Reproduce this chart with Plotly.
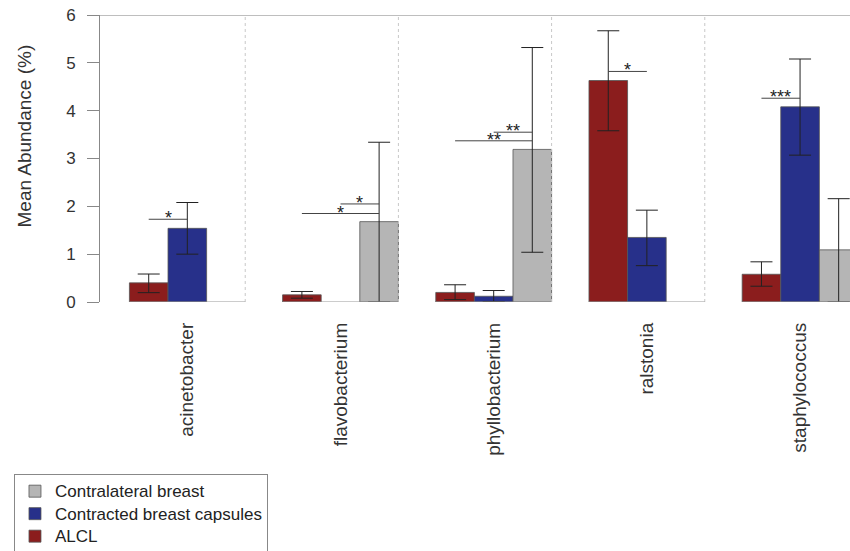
import plotly.graph_objects as go

categories = ["acinetobacter", "flavobacterium", "phyllobacterium", "ralstonia", "staphylococcus"]
series_names = ["ALCL", "Contracted breast capsules", "Contralateral breast"]
series_colors = ["#8b1d1d", "#27308a", "#b5b5b5"]

alcl_mean = [0.40, 0.15, 0.20, 4.63, 0.58]
alcl_upper = [0.585, 0.22, 0.36, 5.67, 0.84]
alcl_lower = [0.195, 0.08, 0.05, 3.58, 0.33]

capsule_mean = [1.54, 0.0, 0.12, 1.35, 4.08]
capsule_upper = [2.08, 0.0, 0.24, 1.92, 5.08]
capsule_lower = [1.00, 0.0, 0.01, 0.76, 3.07]

contra_mean = [0.0, 1.68, 3.19, 0.0, 1.09]
contra_upper = [0.0, 3.34, 5.32, 0.0, 2.16]
contra_lower = [0.0, 0.0, 1.04, 0.0, 0.0]

# significance brackets: category index, from series, to series, height, label
sig_category = [0, 1, 1, 2, 2, 3, 4]
sig_from = [0, 1, 0, 1, 0, 0, 0]
sig_to = [1, 2, 2, 2, 2, 1, 1]
sig_height = [1.73, 2.05, 1.85, 3.55, 3.37, 4.82, 4.26]
sig_label = ["*", "*", "*", "**", "**", "*", "***"]

y_ticks = [0, 1, 2, 3, 4, 5, 6]

means = [alcl_mean, capsule_mean, contra_mean]
uppers = [alcl_upper, capsule_upper, contra_upper]
lowers = [alcl_lower, capsule_lower, contra_lower]

FONT = "Liberation Sans, Arial, sans-serif"
BAR_W = 0.252
offsets = [-0.256, -0.004, 0.248]
centers = [o + BAR_W / 2 for o in offsets]
xs = list(range(len(categories)))

fig = go.Figure()
for k in range(3):
    m = means[k]
    fig.add_trace(go.Bar(
        x=xs,
        y=[v if v > 0 else None for v in m],
        width=BAR_W,
        offset=offsets[k],
        name="<span style='font-size:17px'>" + series_names[k] + "</span>",
        marker=dict(color=series_colors[k], line=dict(color="#555555", width=0.8)),
        error_y=dict(type="data", symmetric=False,
                     array=[u - v for u, v in zip(uppers[k], m)],
                     arrayminus=[v - l for v, l in zip(m, lowers[k])],
                     color="#222222", thickness=1, width=11),
        cliponaxis=False,
    ))

shapes = []
# top frame line
shapes.append(dict(type="line", xref="paper", yref="y", x0=0, x1=1, y0=6, y1=6,
                   line=dict(color="#a8a8a8", width=1.5)))
# panel separators
for i in range(len(categories) - 1):
    shapes.append(dict(type="line", xref="x", yref="y", x0=i + 0.5, x1=i + 0.5, y0=0, y1=6,
                       line=dict(color="#c8c8c8", width=1, dash="dot")))
# per-panel baselines
for i in xs:
    shapes.append(dict(type="line", xref="x", yref="y", x0=i + offsets[0], x1=i + 0.5, y0=0, y1=0,
                       line=dict(color="#999999", width=1.2)))
# significance brackets
annotations = []
for c, a, b, h, lab in zip(sig_category, sig_from, sig_to, sig_height, sig_label):
    xa = c + centers[a]
    xb = c + centers[b]
    shapes.append(dict(type="line", xref="x", yref="y", x0=xa, x1=xb, y0=h, y1=h,
                       line=dict(color="#444444", width=1)))
    annotations.append(dict(x=(xa + xb) / 2, y=h, xref="x", yref="y", text=lab, showarrow=False,
                            yanchor="middle", xanchor="center", yshift=1,
                            font=dict(family=FONT, size=18, color="#222222")))

annotations.append(dict(x=-0.1013, y=0.5767, xref="paper", yref="paper", text="Mean Abundance (%)",
                        textangle=-90, showarrow=False, xanchor="center", yanchor="middle",
                        font=dict(family=FONT, size=19, color="#333333")))

fig.update_layout(
    width=850, height=551,
    margin=dict(l=100, r=0, t=15, b=249, autoexpand=False),
    plot_bgcolor="white", paper_bgcolor="white",
    barmode="overlay",
    showlegend=True,
    legend=dict(traceorder="reversed", x=-0.1147, y=-0.599, xanchor="left", yanchor="top",
                bordercolor="#888888", borderwidth=1, bgcolor="white",
                font=dict(family=FONT, size=15, color="#222222")),
    shapes=shapes,
    annotations=annotations,
    xaxis=dict(range=[-0.448, 4.448], showgrid=False, zeroline=False, showline=False,
               tickmode="array", tickvals=[i + centers[1] for i in xs], ticktext=categories,
               tickangle=-90, ticks="", ticklabelstandoff=16,
               tickfont=dict(family=FONT, size=19, color="#333333")),
    yaxis=dict(range=[0, 6], tickmode="array", tickvals=y_ticks, ticks="outside", ticklen=12,
               tickcolor="#888888", tickwidth=1, showline=True, linecolor="#888888", linewidth=1,
               showgrid=False, zeroline=False, ticklabelstandoff=8,
               tickfont=dict(family=FONT, size=17, color="#333333")),
)

fig.write_html("out.html", config={"displayModeBar": False},
               post_script="document.body.style.margin='0px';document.body.style.overflow='hidden';")
